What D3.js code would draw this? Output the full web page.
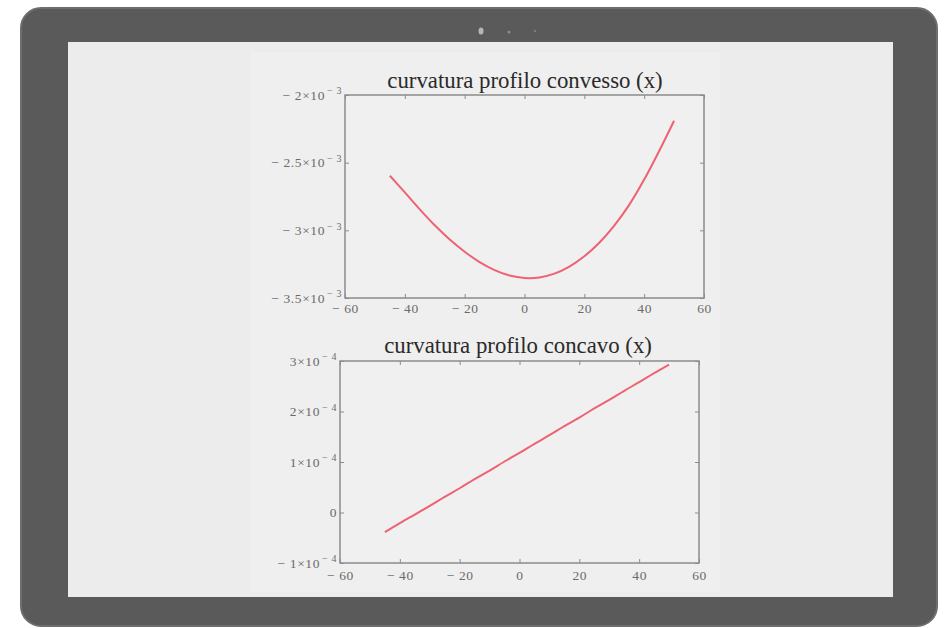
<!DOCTYPE html>
<html>
<head>
<meta charset="utf-8">
<script src="https://cdn.jsdelivr.net/npm/d3@7"></script>
<style>
  html, body { margin: 0; padding: 0; background: #ffffff; }
  svg { display: block; }
  text { font-family: "Liberation Serif", "DejaVu Serif", serif; }
</style>
</head>
<body>
<svg id="chart" width="944" height="628"></svg>
<script>
// ---- data ----
const xValues = [-45, -40, -35, -30, -25, -20, -15, -10, -5, 0, 5, 10, 15, 20, 25, 30, 35, 40, 45, 50];
const convexValues = [-0.002597, -0.00272, -0.002845, -0.002963, -0.003068, -0.003158, -0.003235, -0.003294, -0.003334, -0.003352,
                      -0.003348, -0.00332, -0.003268, -0.003192, -0.003092, -0.002965, -0.002812, -0.002625, -0.002414, -0.00219];
const concaveValues = [-0.000039, -0.000021, -0.000004, 0.000013, 0.000031, 0.000048, 0.000066, 0.000083, 0.000101, 0.000118,
                       0.000136, 0.000153, 0.000171, 0.000188, 0.000206, 0.000223, 0.000241, 0.000258, 0.000276, 0.000293];
const xTicks = [-60, -40, -20, 0, 20, 40, 60];
const xTickLabels = ["− 60", "− 40", "− 20", "0", "20", "40", "60"];
const convexYTicks = [-0.002, -0.0025, -0.003, -0.0035];
const convexYBase = ["− 2×10", "− 2.5×10", "− 3×10", "− 3.5×10"];
const convexYExp = ["− 3", "− 3", "− 3", "− 3"];
const concaveYTicks = [0.0003, 0.0002, 0.0001, 0, -0.0001];
const concaveYBase = ["3×10", "2×10", "1×10", "0", "− 1×10"];
const concaveYExp = ["− 4", "− 4", "− 4", "", "− 4"];
const titles = ["curvatura profilo convesso (x)", "curvatura profilo concavo (x)"];

// ---- drawing ----
const svg = d3.select("#chart");

// tablet frame
svg.append("rect").attr("x", 21).attr("y", 8).attr("width", 916).attr("height", 618)
  .attr("rx", 20).attr("fill", "#5a5a5a").attr("stroke", "#6e6e6e").attr("stroke-width", 2);
svg.append("rect").attr("x", 68).attr("y", 42).attr("width", 825).attr("height", 555)
  .attr("fill", "#ececec");
svg.append("rect").attr("x", 250).attr("y", 52).attr("width", 470).attr("height", 540)
  .attr("fill", "#efefef");
svg.append("ellipse").attr("cx", 481).attr("cy", 31).attr("rx", 2.5).attr("ry", 3.5).attr("fill", "#b5b5b5");
svg.append("circle").attr("cx", 509).attr("cy", 32).attr("r", 1.5).attr("fill", "#8c8c8c");
svg.append("circle").attr("cx", 535).attr("cy", 31).attr("r", 1.3).attr("fill", "#7c7c7c");

const panels = [
  { left: 345, right: 704, top: 95, bottom: 298, yDomain: [-0.0035, -0.002], values: convexValues,
    yTicks: convexYTicks, yBase: convexYBase, yExp: convexYExp, title: titles[0], titleX: 525, titleY: 88, xPad: 5 },
  { left: 340, right: 699, top: 361, bottom: 563, yDomain: [-0.0001, 0.0003], values: concaveValues,
    yTicks: concaveYTicks, yBase: concaveYBase, yExp: concaveYExp, title: titles[1], titleX: 518, titleY: 353, xPad: 7 }
];

const axisColor = "#8c8c8c";
const labelColor = "#6a6a6a";

panels.forEach(p => {
  const x = d3.scaleLinear().domain([-60, 60]).range([p.left, p.right]);
  const y = d3.scaleLinear().domain(p.yDomain).range([p.bottom, p.top]);
  const g = svg.append("g");

  g.append("rect").attr("x", p.left).attr("y", p.top)
    .attr("width", p.right - p.left).attr("height", p.bottom - p.top)
    .attr("fill", "#f0f0f0").attr("stroke", axisColor).attr("stroke-width", 1.5);

  const xb = g.append("g").attr("transform", `translate(0,${p.bottom})`)
    .call(d3.axisBottom(x).tickValues(xTicks).tickSizeInner(-4).tickSizeOuter(0).tickPadding(p.xPad)
      .tickFormat((d, i) => xTickLabels[i]));
  const xt = g.append("g").attr("transform", `translate(0,${p.top})`)
    .call(d3.axisTop(x).tickValues(xTicks).tickSizeInner(-4).tickSizeOuter(0).tickFormat(""));
  const yl = g.append("g").attr("transform", `translate(${p.left},0)`)
    .call(d3.axisLeft(y).tickValues(p.yTicks).tickSizeInner(-4).tickSizeOuter(0).tickPadding(3)
      .tickFormat(""));
  const yr = g.append("g").attr("transform", `translate(${p.right},0)`)
    .call(d3.axisRight(y).tickValues(p.yTicks).tickSizeInner(-4).tickSizeOuter(0).tickFormat(""));

  [xb, xt, yl, yr].forEach(a => {
    a.select(".domain").remove();
    a.selectAll(".tick line").attr("stroke", axisColor).attr("stroke-width", 1);
  });
  xb.selectAll(".tick text").attr("fill", labelColor).attr("font-size", 13.5)
    .attr("font-family", "Liberation Serif, serif").style("letter-spacing", "0.6px");

  yl.selectAll(".tick").each(function (d, i) {
    const t = d3.select(this).select("text")
      .attr("fill", labelColor).attr("font-size", 13.5).attr("font-family", "Liberation Serif, serif")
      .attr("x", -3).attr("dy", "0.32em").attr("text-anchor", "end").style("letter-spacing", "0.6px");
    t.text(null);
    t.append("tspan").text(p.yBase[i]);
    if (p.yExp[i]) {
      t.append("tspan").attr("font-size", 10).attr("dy", "-0.55em").attr("dx", 2).text(p.yExp[i]);
    }
  });

  g.append("text").attr("x", p.titleX).attr("y", p.titleY).attr("text-anchor", "middle")
    .attr("font-size", 22.8).attr("fill", "#2a2a2a").text(p.title);

  const line = d3.line().x((d, i) => x(xValues[i])).y(d => y(d)).curve(d3.curveCatmullRom.alpha(0.5));
  g.append("path").datum(p.values).attr("d", line)
    .attr("fill", "none").attr("stroke", "#ee6272").attr("stroke-width", 2);
});
</script>
</body>
</html>
